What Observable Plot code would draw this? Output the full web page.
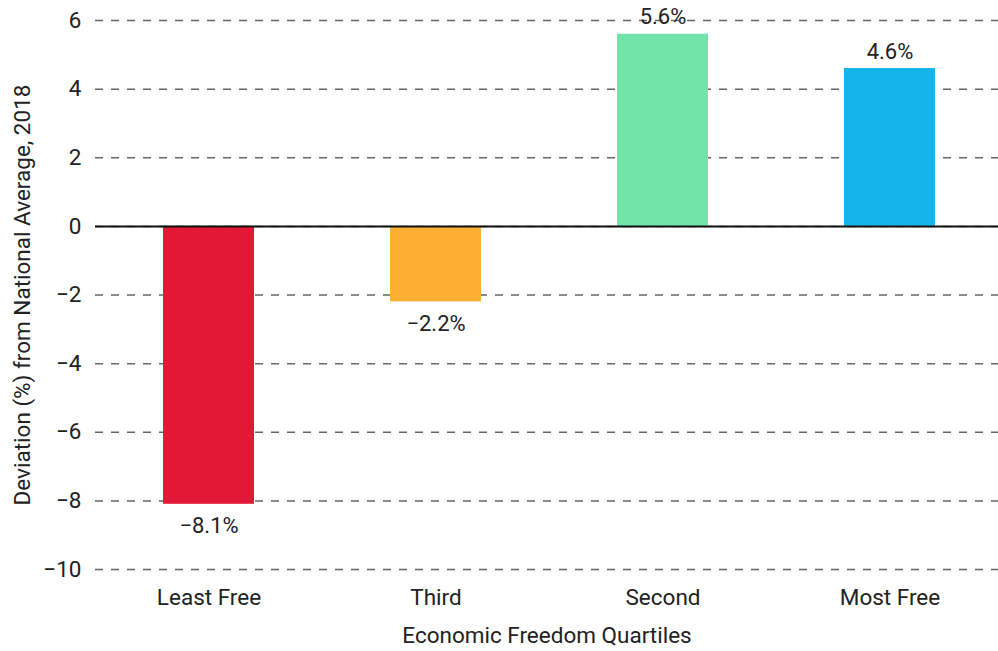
<!DOCTYPE html>
<html>
<head>
<meta charset="utf-8">
<script src="https://cdn.jsdelivr.net/npm/d3@7"></script>
<script src="https://cdn.jsdelivr.net/npm/@observablehq/plot@0.6"></script>
<style>
  html, body { margin: 0; padding: 0; background: #fff; }
  #chart { width: 998px; height: 651px; }
</style>
</head>
<body>
<div id="chart"></div>
<script>
const categories = ["Least Free", "Third", "Second", "Most Free"];
const values = [-8.1, -2.2, 5.6, 4.6];
const colors = ["#E31837", "#FBB034", "#72E3AA", "#14B5E9"];
const yTicks = [-10, -8, -6, -4, -2, 0, 2, 4, 6];

const data = categories.map((c, i) => ({ cat: c, value: values[i], color: colors[i] }));
const fmt = v => (v < 0 ? "\u2212" : "") + Math.abs(v).toFixed(1) + "%";

const chart = Plot.plot({
  width: 998,
  height: 651,
  marginLeft: 95,
  marginRight: 0,
  marginTop: 20,
  marginBottom: 82,
  style: { fontSize: "22px", fontFamily: "Roboto, sans-serif", color: "#222", background: "#fff" },
  x: { domain: categories, paddingInner: 0.6, paddingOuter: 0.286, align: 0.515, label: null },
  y: { domain: [-10, 6], label: null },
  marks: [
    Plot.gridY(yTicks, { stroke: "#666", strokeOpacity: 1, strokeDasharray: "8,8", strokeWidth: 1.5 }),
    Plot.barY(data, { x: "cat", y: "value", fill: "color" }),
    Plot.ruleY([0], { stroke: "#111", strokeWidth: 2 }),
    Plot.text(data.filter(d => d.value >= 0), { x: "cat", y: "value", text: d => fmt(d.value), dy: -17, fill: "#222", fontSize: 22 }),
    Plot.text(data.filter(d => d.value < 0), { x: "cat", y: "value", text: d => fmt(d.value), dy: 22, fill: "#222", fontSize: 22 }),
    Plot.axisY(yTicks, { tickSize: 0, tickPadding: 14, label: "Deviation (%) from National Average, 2018", labelArrow: "none", labelAnchor: "center", labelOffset: 81, fontSize: 22.5 }),
    Plot.axisX({ tickSize: 0, tickPadding: 20, label: "Economic Freedom Quartiles", labelArrow: "none", labelAnchor: "center", labelOffset: 73, fontSize: 22.5 })
  ]
});
document.getElementById("chart").appendChild(chart);
</script>
</body>
</html>
